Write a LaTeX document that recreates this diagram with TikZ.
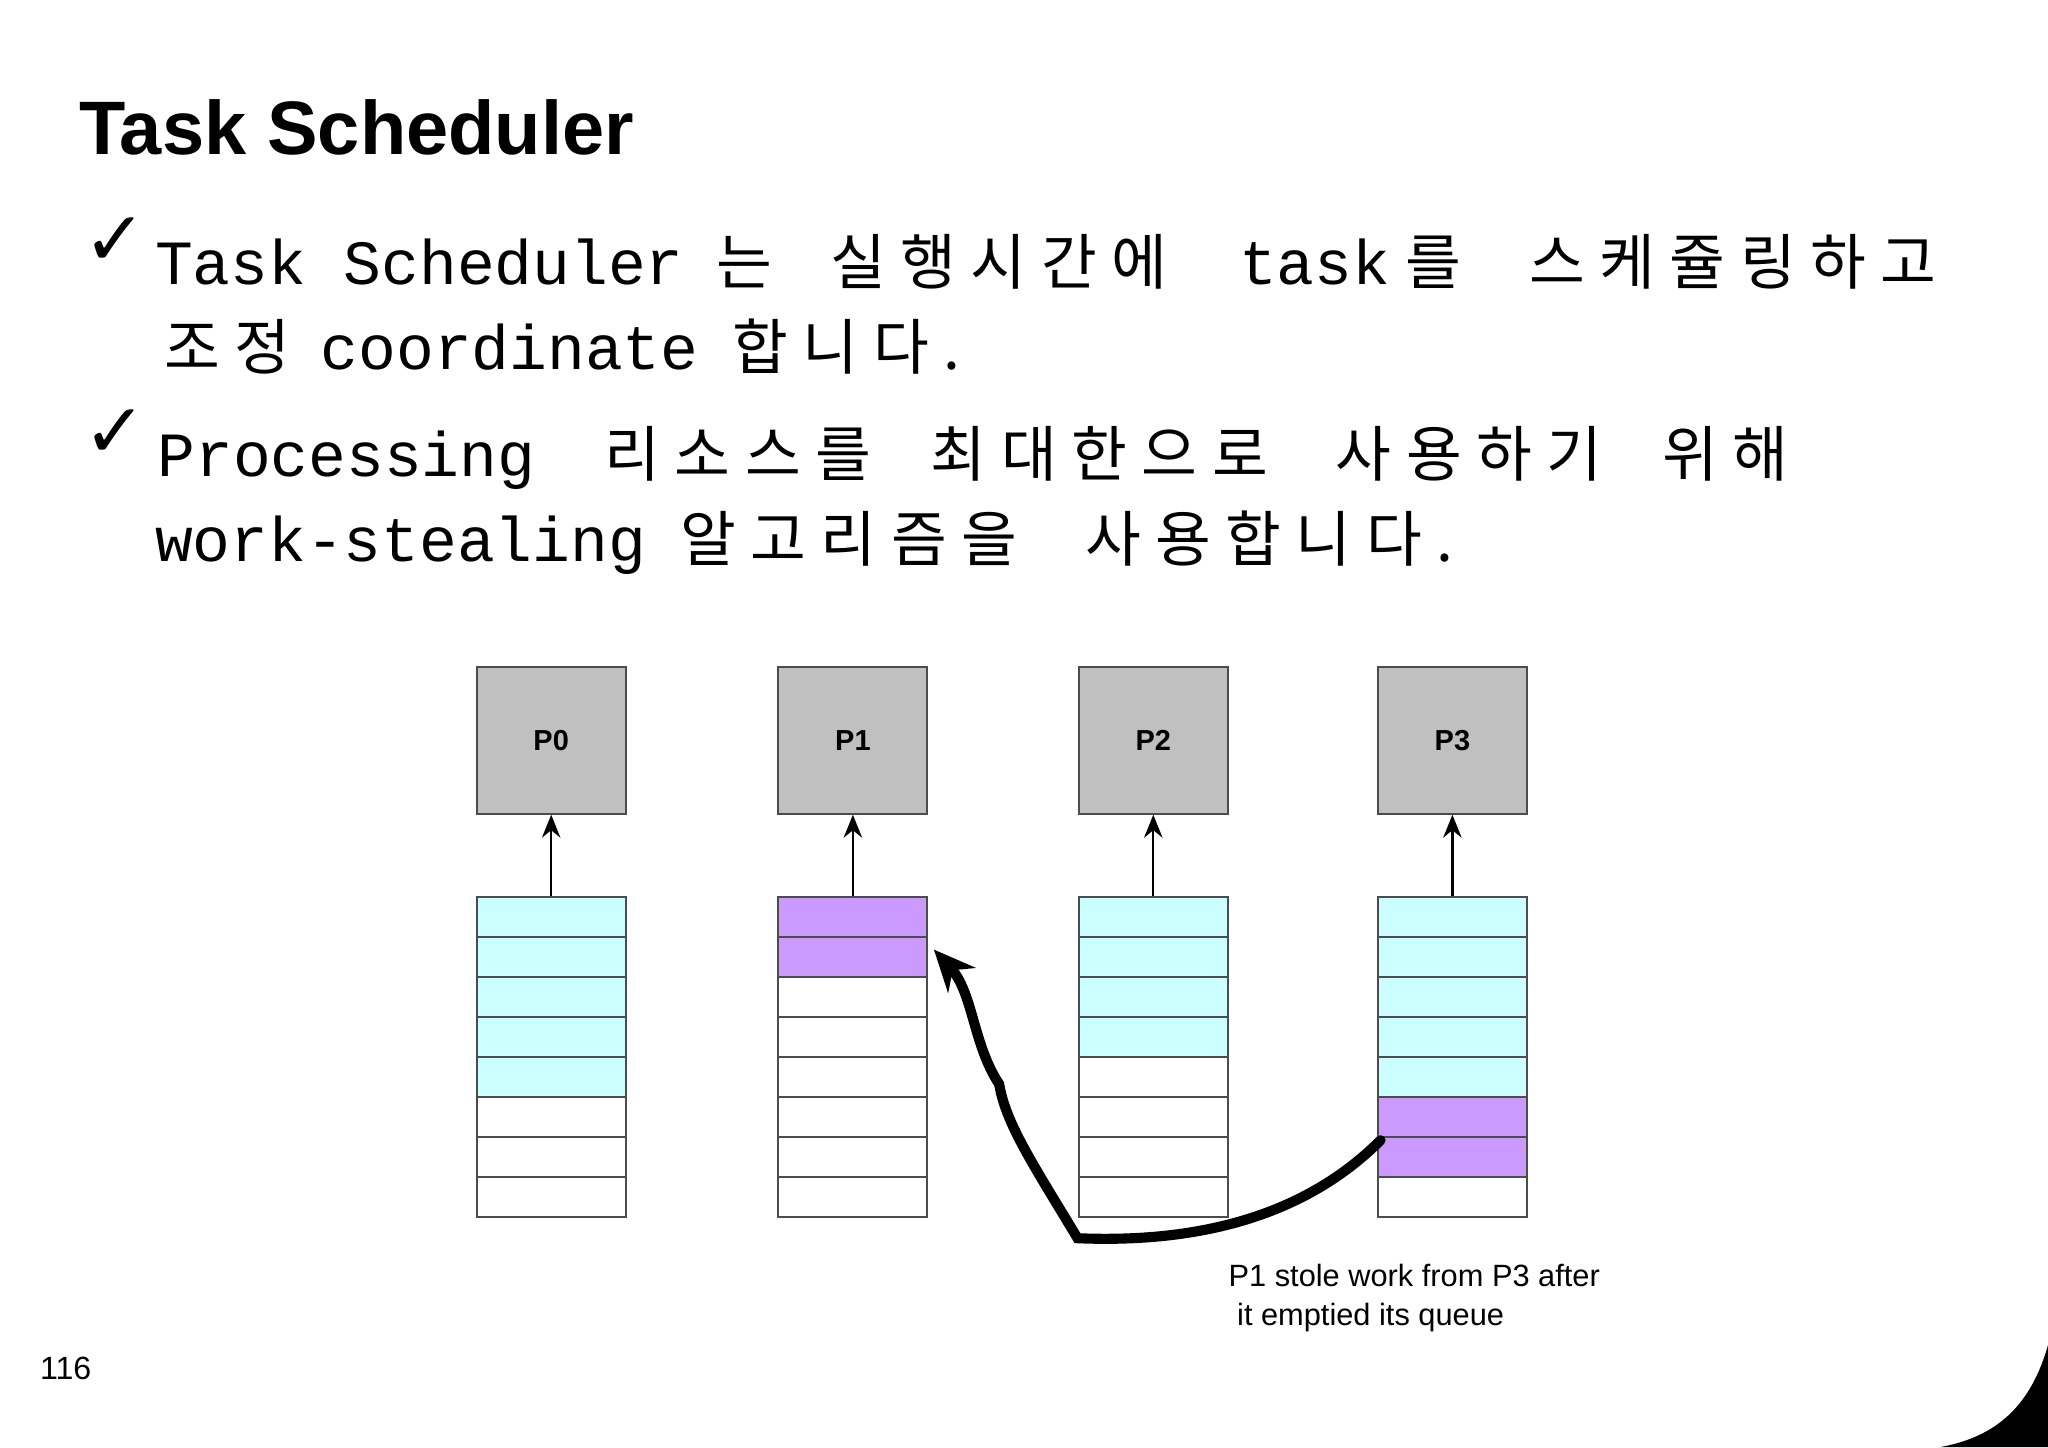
\documentclass[tikz,border=0pt]{standalone}
\usepackage{fontspec}
\setmainfont{Liberation Sans}
\setmonofont{Liberation Mono}
\newfontfamily\kr[LetterSpace=24]{Noto Sans CJK KR}
\newfontfamily\dv{DejaVu Sans}
\usetikzlibrary{arrows.meta}
\definecolor{cyq}{HTML}{CCFFFF}
\definecolor{puq}{HTML}{CC99FF}
\definecolor{grp}{HTML}{C0C0C0}
\begin{document}
\begin{tikzpicture}[x=0.01cm,y=-0.01cm,
  mono/.style={anchor=base west,inner sep=0,font=\ttfamily\fontsize{13.7}{16}\selectfont},
  kor/.style={anchor=base west,inner sep=0,font=\kr\fontsize{13.2}{16}\selectfont},
  chk/.style={anchor=base west,inner sep=0,font=\dv\fontsize{16.5}{20}\selectfont},
  proc/.style={draw=black!70,fill=grp,minimum width=1.14cm,minimum height=1.12cm,inner sep=0,font=\bfseries\fontsize{6.3}{7}\selectfont},
  cell/.style={draw=black!70,minimum width=1.14cm,minimum height=0.306cm,inner sep=0},
  up/.style={-{Stealth[length=5pt,width=4pt]},line width=0.5pt}]
\useasboundingbox (0,0) rectangle (1568,1108);
\fill[white] (0,0) rectangle (1568,1108);
\node[anchor=base west,inner sep=0,font=\bfseries\fontsize{16.5}{20}\selectfont] (title) at (60,118) {Task Scheduler};
% bullets
\node[chk] (c1) at (63,203) {✓};
\node[chk] (c2) at (63,350) {✓};
\node[mono] (a1) at (118,218) {Task Scheduler};
\node[kor] (a2) at (548,218) {는};
\node[kor] (a3) at (635,218) {실행시간에};
\node[mono] (a4) at (948,218) {task};
\node[kor] (a5) at (1075,218) {를};
\node[kor] (a6) at (1170,218) {스케쥴링하고};
\node[kor] (b1) at (125,283) {조정};
\node[mono] (b2) at (245,283) {coordinate};
\node[kor] (b3) at (560,283) {합니다.};
\node[mono] (d1) at (120,365) {Processing};
\node[kor] (d2) at (462,365) {리소스를};
\node[kor] (d3) at (712,365) {최대한으로};
\node[kor] (d4) at (1022,365) {사용하기};
\node[kor] (d5) at (1272,365) {위해};
\node[mono] (e1) at (118,430) {work-stealing};
\node[kor] (e2) at (520,430) {알고리즘을};
\node[kor] (e3) at (830,430) {사용합니다.};
% processors and queues
\foreach \i/\x/\nc in {0/422/5,1/653/0,2/883/4,3/1112/5}{
  \node[proc] (p\i) at (\x,567) {P\i};
  \foreach \k in {1,...,8}{
    \pgfmathsetmacro\yy{687+15.3+(\k-1)*30.6}
    \ifnum\k>\nc \def\cc{white}\else\def\cc{cyq}\fi
    \ifnum\i=1 \ifnum\k<3 \def\cc{puq}\fi\fi
    \ifnum\i=3 \ifnum\k>5 \ifnum\k<8 \def\cc{puq}\fi\fi\fi
    \node[cell,fill=\cc] (q\i-\k) at (\x,\yy) {};
  }
  \draw[up] (q\i-1.north) -- (p\i.south);
}
% steal arrow
\coordinate (s) at (1057,873);
\draw[line width=2.2pt,line cap=round,-{Stealth[length=9pt,width=8pt]}]
  (s) .. controls (1000,930) and (920,952) .. (825,948)
  .. controls (790,890) and (770,860) .. (765,830)
  .. controls (745,800) and (745,760) .. (715,727);
\node[anchor=base west,inner sep=0,align=left,font=\fontsize{6.7}{8.6}\selectfont] (cap) at (940,1015) {P1 stole work from P3 after\\ \ it emptied its queue};
\node[anchor=base west,inner sep=0,font=\fontsize{7}{8}\selectfont] (pg) at (30,1056) {116};
\fill[black] (1568,1030) .. controls (1555,1075) and (1530,1100) .. (1485,1108) -- (1568,1108) -- cycle;
\end{tikzpicture}
\end{document}
